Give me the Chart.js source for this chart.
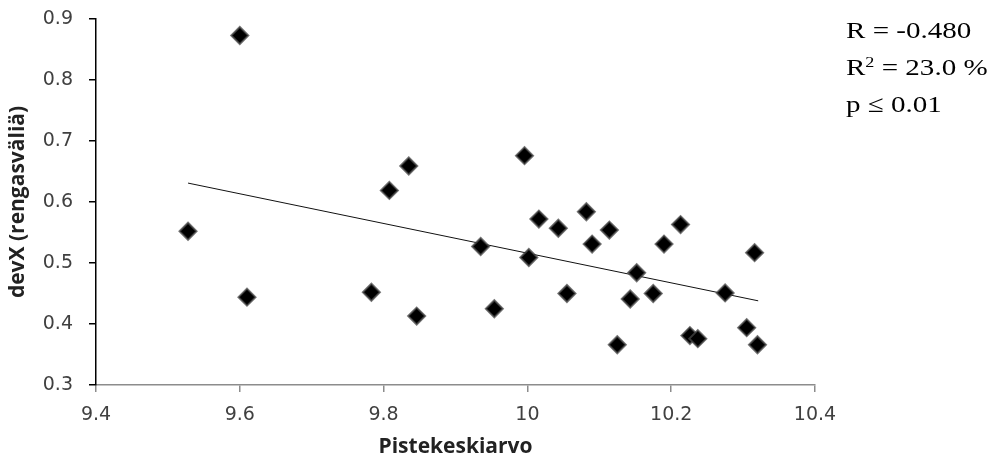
<!DOCTYPE html>
<html>
<head>
<meta charset="utf-8">
<script src="https://cdn.jsdelivr.net/npm/chart.js@4"></script>
<style>
  html, body { margin: 0; padding: 0; background: #fff; }
  #wrap { width: 994px; height: 464px; }
</style>
</head>
<body>
<div id="wrap"><canvas id="chart" width="994" height="464"></canvas></div>
<script>
// Scatter values
const scoreX = [9.528, 9.600, 9.610, 9.783, 9.808, 9.835, 9.846, 9.935, 9.954, 9.996,
                10.002, 10.016, 10.043, 10.082, 10.055, 10.090, 10.114, 10.125, 10.143, 10.152,
                10.175, 10.190, 10.213, 10.226, 10.237, 10.275, 10.305, 10.316, 10.320];
const devY = [0.552, 0.873, 0.444, 0.452, 0.619, 0.659, 0.413, 0.527, 0.425, 0.676,
              0.509, 0.572, 0.557, 0.584, 0.450, 0.531, 0.554, 0.366, 0.441, 0.484,
              0.450, 0.531, 0.563, 0.381, 0.376, 0.451, 0.394, 0.517, 0.366];

// Trend line end points
const trendX = [9.528, 10.321];
const trendY = [0.631, 0.438];

const xTicks = [9.4, 9.6, 9.8, 10, 10.2, 10.4];
const yTicks = [0.3, 0.4, 0.5, 0.6, 0.7, 0.8, 0.9];

const statLines = ['R = -0.480', 'R2 = 23.0 %', 'p \u2264 0.01'];

const points = scoreX.map((x, i) => ({ x: x, y: devY[i] }));
const trend = trendX.map((x, i) => ({ x: x, y: trendY[i] }));

// Draw the statistics text at top right (text in the source is a bit wide, so stretch it)
const statsPlugin = {
    id: 'stats',
    afterDraw(chart) {
        const ctx = chart.ctx;
        const big = '24px "Liberation Serif", "Times New Roman", serif';
        const small = '15px "Liberation Serif", "Times New Roman", serif';
        const left = 846;
        const stretch = 1.21;
        const baselines = [38, 75, 112];
        ctx.save();
        ctx.fillStyle = '#000';
        ctx.textBaseline = 'alphabetic';
        ctx.translate(left, 0);
        ctx.scale(stretch, 1);
        statLines.forEach((line, i) => {
            ctx.font = big;
            if (line.startsWith('R2')) {
                ctx.fillText('R', 0, baselines[i]);
                let w = ctx.measureText('R').width;
                ctx.font = small;
                ctx.fillText('2', w, baselines[i] - 8);
                w += ctx.measureText('2').width;
                ctx.font = big;
                ctx.fillText(line.slice(2), w, baselines[i]);
            } else {
                ctx.fillText(line, 0, baselines[i]);
            }
        });
        ctx.restore();
    }
};

const ctx = document.getElementById('chart').getContext('2d');
new Chart(ctx, {
    type: 'scatter',
    data: {
        datasets: [
            {
                label: 'devX',
                data: points,
                pointStyle: 'rectRot',
                pointRadius: 8.5,
                backgroundColor: '#000',
                borderColor: 'rgba(70,70,70,0.75)',
                borderWidth: 2,
                order: 1
            },
            {
                label: 'trend',
                data: trend,
                showLine: true,
                pointRadius: 0,
                borderColor: '#111',
                borderWidth: 1,
                order: 2
            }
        ]
    },
    options: {
        responsive: false,
        animation: false,
        layout: { padding: { left: 0, top: 19, right: 179, bottom: 0 } },
        plugins: {
            legend: { display: false },
            tooltip: { enabled: false }
        },
        scales: {
            x: {
                type: 'linear',
                min: 9.4,
                max: 10.4,
                afterBuildTicks: axis => { axis.ticks = xTicks.map(v => ({ value: v })); },
                afterFit: axis => {
                    axis.height = 79;
                    axis.paddingLeft = 0;
                    axis.paddingRight = 0;
                },
                border: { color: '#8c8c8c', width: 1.5 },
                grid: { drawOnChartArea: false, drawTicks: true, tickLength: 7, color: '#8c8c8c', lineWidth: 1.5 },
                ticks: {
                    color: '#404040',
                    padding: 12,
                    font: { family: 'DejaVu Sans', size: 19 },
                    callback: v => String(v)
                },
                title: {
                    display: true,
                    text: 'Pistekeskiarvo',
                    color: '#222',
                    padding: { top: 0, bottom: 4 },
                    font: { family: 'Open Sans', size: 21, weight: 'bold' }
                }
            },
            y: {
                type: 'linear',
                min: 0.3,
                max: 0.9,
                afterBuildTicks: axis => { axis.ticks = yTicks.map(v => ({ value: v })); },
                afterFit: axis => {
                    axis.width = 96;
                    axis.paddingTop = 0;
                    axis.paddingBottom = 0;
                },
                border: { color: '#000', width: 1.5 },
                grid: { drawOnChartArea: false, drawTicks: true, tickLength: 7, color: '#000', lineWidth: 1.5 },
                ticks: {
                    color: '#404040',
                    padding: 16,
                    font: { family: 'DejaVu Sans', size: 19 },
                    callback: v => String(v)
                },
                title: {
                    display: true,
                    text: 'devX (rengasväliä)',
                    color: '#222',
                    padding: { top: 5, bottom: 0 },
                    font: { family: 'Open Sans', size: 21, weight: 'bold' }
                }
            }
        }
    },
    plugins: [statsPlugin]
});
</script>
</body>
</html>
